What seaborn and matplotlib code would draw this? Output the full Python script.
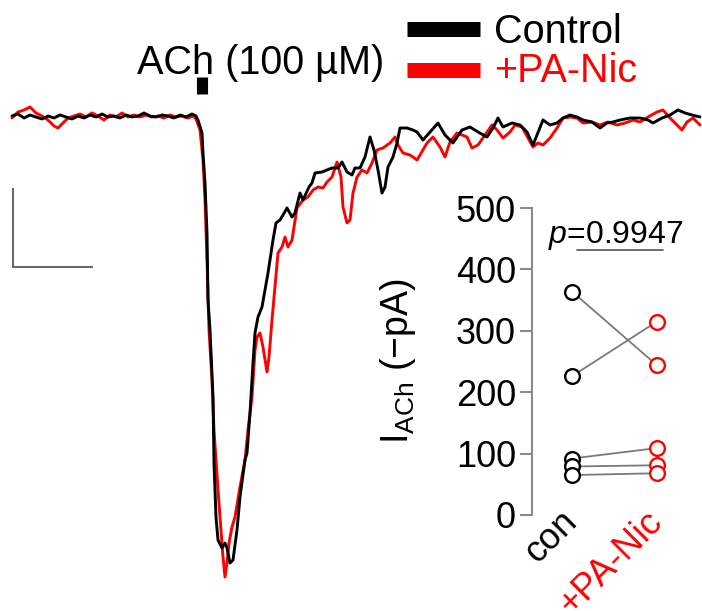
import numpy as np
import pandas as pd
import matplotlib
matplotlib.use("Agg")
import matplotlib.pyplot as plt
import seaborn as sns

# ---------------- data ----------------
# Whole-cell current traces (time and current in arbitrary trace units)
ctrl_t = [0, 6, 12, 18, 24, 30, 36, 42, 48, 54, 60, 66, 72, 78, 84, 90, 96, 102, 108, 114,
          120, 126, 132, 138, 144, 150, 156, 162, 168, 174, 180, 184, 186, 190, 191, 193, 195,
          196, 198, 201, 202, 204, 206, 210, 213, 215, 218, 221, 225, 228, 233, 235, 238, 241,
          243, 246, 250, 256, 261, 264, 268, 271, 275, 280, 283, 288, 291, 297, 300, 303, 310,
          315, 320, 326, 330, 335, 340, 343, 348, 353, 358, 362, 366, 370, 373, 376, 381, 385,
          388, 395, 401, 405, 411, 418, 426, 433, 441, 450, 458, 466, 475, 481, 486, 491, 500,
          508, 515, 521, 525, 531, 538, 545, 551, 558, 565, 571, 580, 588, 595, 601, 608, 618,
          628, 636, 641, 650, 658, 666, 673, 680, 688]
ctrl_i = [1, 3, -1, 2, 0, -2, 1, -1, 2, 0, -2, 1, -1, 2, 0, 3, 0, 1, -1, 2,
          0, 1, 4, 1, 0, 2, 1, -1, 2, 0, 3, 1, -3, -16, -36, -66, -116,
          -183, -213, -280, -346, -400, -423, -431, -426, -431, -446, -443, -413, -380, -343, -336, -296, -246,
          -216, -200, -190, -156, -123, -106, -103, -98, -91, -100, -96, -76, -83, -70, -66, -56, -55,
          -53, -51, -51, -45, -55, -58, -51, -51, -40, -20, -33, -53, -76, -70, -50, -40, -26,
          -11, -11, -13, -15, -23, -15, -6, -18, -26, -13, -10, -15, -20, -11, -1, -10, -6,
          -8, -15, -28, -18, -3, -8, -6, -1, 2, 0, -3, -5, -11, -6, -5, -3, -1,
          -1, -3, -6, -1, 2, 7, 4, 2, 0]

panic_t = [0, 6, 12, 18, 24, 30, 36, 42, 46, 51, 56, 62, 68, 74, 80, 86, 92, 98, 104, 110,
           116, 122, 128, 134, 140, 146, 152, 158, 164, 170, 176, 181, 184, 188, 191, 193, 195,
           197, 200, 202, 204, 206, 209, 211, 213, 215, 217, 220, 223, 228, 233, 236, 240, 243,
           245, 248, 251, 255, 257, 260, 263, 266, 270, 273, 276, 280, 285, 291, 296, 301, 306,
           311, 315, 320, 325, 329, 331, 335, 338, 341, 345, 350, 355, 360, 365, 371, 378, 383,
           386, 391, 398, 405, 408, 415, 421, 428, 433, 438, 445, 455, 460, 466, 473, 480, 485,
           491, 498, 503, 510, 516, 521, 526, 531, 538, 545, 551, 558, 565, 571, 580, 588, 596,
           605, 613, 621, 628, 636, 645, 651, 658, 665, 670, 675, 681, 688]
panic_i = [-1, 5, 7, 10, 4, 1, -3, -9, -11, -6, -1, 1, 3, 0, 4, 1, -3, 2, 0, 4,
           0, 2, 0, 2, 0, 1, -1, 2, 0, 1, -1, 1, -2, -13, -43, -83, -143,
           -213, -263, -313, -343, -373, -413, -440, -460, -446, -426, -410, -400, -370, -343, -313, -280, -233,
           -220, -216, -230, -255, -240, -203, -170, -136, -130, -120, -130, -123, -91, -83, -80, -73, -70,
           -71, -65, -60, -45, -60, -90, -106, -103, -76, -60, -53, -56, -46, -33, -31, -26, -20,
           -28, -36, -38, -43, -38, -26, -20, -30, -40, -25, -16, -20, -31, -28, -18, -8, -13,
           -21, -15, -8, -10, -21, -30, -26, -28, -21, -11, -1, 0, -1, -6, -5, -8, -5,
           -8, -6, -3, -5, 0, 5, 7, -1, -8, -13, -5, -1, -8]

trace_labels = ["Control", "+PA-Nic"]
trace_colors = ["black", "#ff0000"]

# ACh application and scale bar (trace units)
ach_on, ach_off = 184, 195
ach_label = "ACh (100 \u00b5M)"
scale_t, scale_i = 80, 79

# Paired peak currents (inset)
groups = ["con", "+PA-Nic"]
con_vals = [364, 226, 92, 79, 65]
panic_vals = [244, 315, 109, 81, 68]
p_text = "$p$=0.9947"
y_ticks = [0, 100, 200, 300, 400, 500]
y_label = "I$_\\mathregular{ACh}$ (\u2212pA)"

# ---------------- style ----------------
sns.set_style("white")
plt.rcParams["font.family"] = ["Liberation Sans", "DejaVu Sans"]
plt.rcParams["mathtext.fontset"] = "custom"
plt.rcParams["mathtext.rm"] = "Liberation Sans"
plt.rcParams["mathtext.it"] = "Liberation Sans:italic"
plt.rcParams["text.color"] = "black"
plt.rcParams["axes.labelcolor"] = "black"
plt.rcParams["xtick.labelcolor"] = "black"
plt.rcParams["ytick.labelcolor"] = "black"

fig = plt.figure(figsize=(7.02, 6.11), dpi=100)

# ---------------- main traces ----------------
ax = fig.add_axes([0, 0, 1, 1])
df = pd.concat([
    pd.DataFrame({"t": ctrl_t, "i": ctrl_i, "cond": trace_labels[0]}),
    pd.DataFrame({"t": panic_t, "i": panic_i, "cond": trace_labels[1]}),
], ignore_index=True)
sns.lineplot(data=df, x="t", y="i", hue="cond",
             hue_order=[trace_labels[1], trace_labels[0]],
             palette={trace_labels[0]: trace_colors[0], trace_labels[1]: trace_colors[1]},
             estimator=None, sort=False, lw=2.1, legend=False, ax=ax)
ax.set_xlim(-12, 690)
ax.set_ylim(-494, 117)
ax.set_axis_off()

# ACh bar + label
ax.plot([(ach_on + ach_off) / 2] * 2, [23, 40], color="black", lw=8, solid_capstyle="butt")
ax.text(125, 43, ach_label, fontsize=28.5, ha="left", va="baseline", color="black")

# Legend (manual)
ax.plot([395, 468], [87.5, 87.5], color=trace_colors[0], lw=10.8, solid_capstyle="butt")
ax.plot([395, 468], [46.5, 46.5], color=trace_colors[1], lw=10.8, solid_capstyle="butt")
ax.text(482, 74, trace_labels[0], fontsize=28.5, ha="left", va="baseline", color=trace_colors[0])
ax.text(482, 35, trace_labels[1], fontsize=28.5, ha="left", va="baseline", color=trace_colors[1])

# Scale bar
sb_color = "#6a6a6a"
ax.plot([1, 1, 1 + scale_t], [-150 + scale_i, -150, -150], color=sb_color, lw=1.5,
        solid_capstyle="butt", solid_joinstyle="miter")

# ---------------- inset ----------------
axi = fig.add_axes([532 / 702, 96 / 611, 158 / 702, 307 / 611])
axi.patch.set_alpha(0)
n = len(con_vals)
pairs = pd.DataFrame({
    "cell": list(range(n)) * 2,
    "x": [0] * n + [1] * n,
    "val": con_vals + panic_vals,
})
sns.lineplot(data=pairs, x="x", y="val", units="cell", estimator=None,
             color="#7a7a7a", lw=1.3, legend=False, ax=axi)
sns.scatterplot(x=[0] * n, y=con_vals, s=112, color="white", edgecolor="black",
                linewidth=1.7, zorder=3, ax=axi)
sns.scatterplot(x=[1] * n, y=panic_vals, s=112, color="white", edgecolor=trace_colors[1],
                linewidth=1.7, zorder=3, ax=axi)

axi.set_xlim(-0.47, 1.39)
axi.set_ylim(0, 500)
axi.set_yticks(y_ticks)
axi.set_xticks([0, 1])
axi.set_xticklabels(groups, rotation=45, ha="right", va="center", rotation_mode="anchor")
axi.get_xticklabels()[0].set_color("black")
axi.get_xticklabels()[1].set_color(trace_colors[1])
for s in ["top", "right", "bottom"]:
    axi.spines[s].set_visible(False)
axi.spines["left"].set_color("#8c8c8c")
axi.spines["left"].set_linewidth(1.5)
axi.tick_params(axis="y", length=8.5, width=1.5, color="#8c8c8c", labelcolor="black",
                labelsize=26, pad=3, left=True)
axi.tick_params(axis="x", length=0, labelsize=26, pad=1, bottom=True)
axi.set_xlabel("")
axi.set_ylabel(y_label, fontsize=27, color="black")
axi.yaxis.set_label_coords(-0.72, 0.5)

axi.text(0.52, 443, p_text, fontsize=23, ha="center", va="baseline", color="black")
axi.plot([0.06, 1.07], [431.6, 431.6], color="#555555", lw=1.2, clip_on=False)

fig.savefig("out.png", dpi=100)
